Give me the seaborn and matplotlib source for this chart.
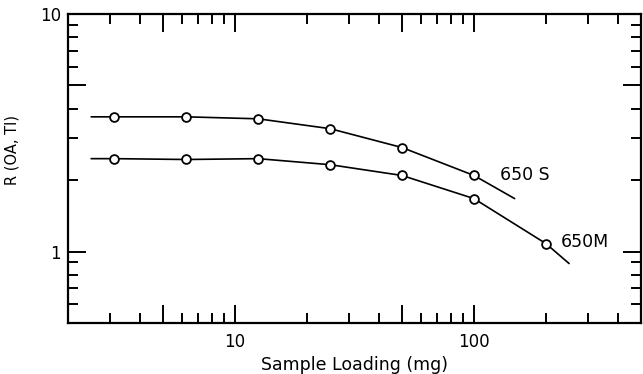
import numpy as np
import pandas as pd
import seaborn as sns
import matplotlib.pyplot as plt
from matplotlib.ticker import FixedLocator, FixedFormatter, NullFormatter

# Measured points (sample loading in mg, ratio R)
loading_s = [3.125, 6.25, 12.5, 25, 50, 100]
r_650s = [3.69, 3.69, 3.62, 3.29, 2.74, 2.09]
loading_m = [3.125, 6.25, 12.5, 25, 50, 100, 200]
r_650m = [2.46, 2.44, 2.46, 2.32, 2.09, 1.67, 1.08]

# Drawn curve ends (beyond the measured points)
curve_s_x = [2.5] + loading_s + [148]
curve_s_y = [3.69] + r_650s + [1.67]
curve_m_x = [2.5] + loading_m + [250]
curve_m_y = [2.46] + r_650m + [0.89]

labels = ["650 S", "650M"]
label_pos = [(128, 2.09), (231, 1.10)]

sns.set_style("white")
plt.rcParams['font.family'] = ['DejaVu Sans']
plt.rcParams['text.color'] = 'black'
plt.rcParams['axes.labelcolor'] = 'black'
plt.rcParams['xtick.color'] = 'black'
plt.rcParams['ytick.color'] = 'black'

fig = plt.figure(figsize=(6.43, 3.74), dpi=100)
ax = fig.add_axes([68 / 643, 1 - 323 / 374, (641 - 68) / 643, (323 - 14) / 374])

curves = pd.concat([
    pd.DataFrame({'x': curve_s_x, 'y': curve_s_y, 'series': labels[0]}),
    pd.DataFrame({'x': curve_m_x, 'y': curve_m_y, 'series': labels[1]}),
])
points = pd.concat([
    pd.DataFrame({'x': loading_s, 'y': r_650s, 'series': labels[0]}),
    pd.DataFrame({'x': loading_m, 'y': r_650m, 'series': labels[1]}),
])

for name, grp in curves.groupby('series'):
    sns.lineplot(x=grp['x'].values, y=grp['y'].values, ax=ax, color='black',
                 lw=1.2, sort=False, estimator=None)
sns.scatterplot(data=points, x='x', y='y', ax=ax, marker='o', s=40,
                facecolor='white', edgecolor='black', linewidth=1.3, zorder=5,
                legend=False)

ax.set_xscale('log')
ax.set_yscale('log')
ax.set_xlim(2, 500)
ax.set_ylim(0.5, 10)

# ticks: decades and 5s long, others short
x_major = [5, 10, 50, 100]
x_minor = [3, 4, 6, 7, 8, 9, 20, 30, 40, 60, 70, 80, 90, 200, 300, 400]
y_major = [1, 5, 10]
y_minor = [0.6, 0.7, 0.8, 0.9, 2, 3, 4, 6, 7, 8, 9]

ax.xaxis.set_major_locator(FixedLocator(x_major))
ax.xaxis.set_major_formatter(FixedFormatter(['', '10', '', '100']))
ax.xaxis.set_minor_locator(FixedLocator(x_minor))
ax.xaxis.set_minor_formatter(NullFormatter())
ax.yaxis.set_major_locator(FixedLocator(y_major))
ax.yaxis.set_major_formatter(FixedFormatter(['1', '', '10']))
ax.yaxis.set_minor_locator(FixedLocator(y_minor))
ax.yaxis.set_minor_formatter(NullFormatter())

ax.tick_params(which='both', direction='in', top=True, right=True,
               bottom=True, left=True, color='black', width=1.4,
               labelsize=12, labelcolor='black')
ax.tick_params(which='major', length=13, pad=5)
ax.tick_params(which='minor', length=7)
ax.tick_params(axis='x', which='major', pad=7)

for sp in ax.spines.values():
    sp.set_visible(True)
    sp.set_color('black')
    sp.set_linewidth(1.6)

for lab, (lx, ly) in zip(labels, label_pos):
    ax.text(lx, ly, lab, fontsize=12.5, va='center', ha='left', color='black')

ax.set_xlabel('Sample Loading (mg)', fontsize=12.5, labelpad=4)
ax.set_ylabel('R (OA, TI)', fontsize=10.5)
ax.yaxis.set_label_coords(-0.085, 0.56)

fig.savefig('out.png', dpi=100)
